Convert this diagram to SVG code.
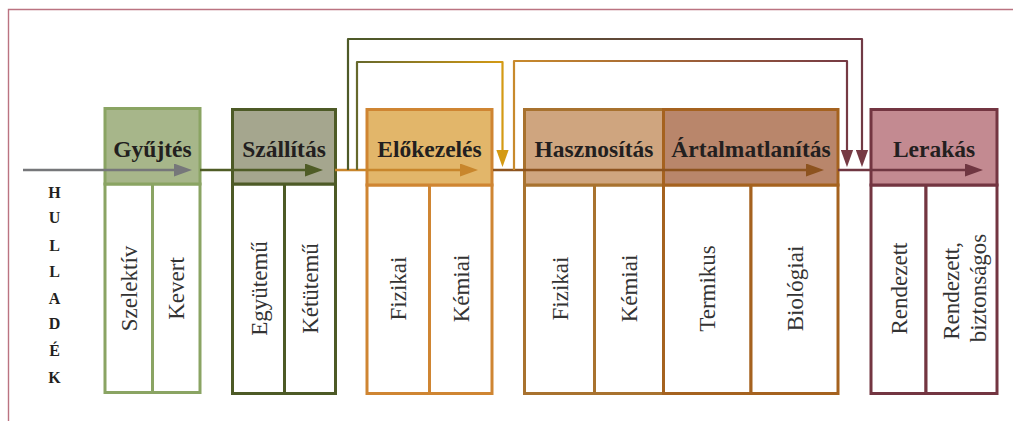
<svg xmlns="http://www.w3.org/2000/svg" width="1013" height="421" viewBox="0 0 1013 421">
  <style>
    .hdr { font-family: "Liberation Serif", "DejaVu Serif", serif; font-weight: bold; font-size: 23.5px; fill: #231f20; text-anchor: middle; }
    .sub { font-family: "Liberation Serif", "DejaVu Serif", serif; font-size: 23px; fill: #333; text-anchor: middle; }
    .side { font-family: "Liberation Serif", "DejaVu Serif", serif; font-weight: bold; font-size: 16px; fill: #231f20; text-anchor: middle; }
    .box { stroke-width: 3; }
    .cell { fill: #fff; stroke-width: 3; }
    .flow { fill: none; stroke-width: 2.6; }
    .loop { fill: none; stroke-width: 2.2; stroke-linejoin: round; }
  </style>
  <defs>
    <marker id="ah-gray" viewBox="0 0 18 13" refX="2" refY="6.5" markerWidth="18" markerHeight="13" markerUnits="userSpaceOnUse" orient="auto"><path d="M0,0 L18,6.5 L0,13 Z" fill="#76777a"/></marker>
    <marker id="ah-olive" viewBox="0 0 18 13" refX="2" refY="6.5" markerWidth="18" markerHeight="13" markerUnits="userSpaceOnUse" orient="auto"><path d="M0,0 L18,6.5 L0,13 Z" fill="#4f5c26"/></marker>
    <marker id="ah-orange" viewBox="0 0 18 13" refX="2" refY="6.5" markerWidth="18" markerHeight="13" markerUnits="userSpaceOnUse" orient="auto"><path d="M0,0 L18,6.5 L0,13 Z" fill="#c8862c"/></marker>
    <marker id="ah-brown" viewBox="0 0 18 13" refX="2" refY="6.5" markerWidth="18" markerHeight="13" markerUnits="userSpaceOnUse" orient="auto"><path d="M0,0 L18,6.5 L0,13 Z" fill="#8d531f"/></marker>
    <marker id="ah-maroon" viewBox="0 0 18 13" refX="2" refY="6.5" markerWidth="18" markerHeight="13" markerUnits="userSpaceOnUse" orient="auto"><path d="M0,0 L18,6.5 L0,13 Z" fill="#6f3641"/></marker>
    <marker id="ah-gold" viewBox="0 0 18 13" refX="2" refY="6.5" markerWidth="17" markerHeight="13" markerUnits="userSpaceOnUse" orient="auto"><path d="M0,0 L18,6.5 L0,13 Z" fill="#d49a14"/></marker>
    <marker id="ah-wine" viewBox="0 0 18 13" refX="2" refY="6.5" markerWidth="17" markerHeight="13" markerUnits="userSpaceOnUse" orient="auto"><path d="M0,0 L18,6.5 L0,13 Z" fill="#763a44"/></marker>
    <linearGradient id="g-outer" gradientUnits="userSpaceOnUse" x1="348" y1="0" x2="862" y2="0">
      <stop offset="0" stop-color="#4e5a28"/>
      <stop offset="1" stop-color="#713a45"/>
    </linearGradient>
    <linearGradient id="g-pre" gradientUnits="userSpaceOnUse" x1="357" y1="0" x2="502" y2="0">
      <stop offset="0" stop-color="#66682c"/>
      <stop offset="1" stop-color="#d49a14"/>
    </linearGradient>
    <linearGradient id="g-use" gradientUnits="userSpaceOnUse" x1="514" y1="0" x2="847" y2="0">
      <stop offset="0" stop-color="#c88a2c"/>
      <stop offset="1" stop-color="#763a44"/>
    </linearGradient>
  </defs>

  <rect width="1013" height="421" fill="#fff"/>

  <!-- page frame -->
  <path d="M8.5,421 V9.5 H1013" fill="none" stroke="#bb7381" stroke-width="1.4"/>

  <!-- vertical side label -->
  <g id="hulladek">
    <text class="side" x="54.5" y="198">H</text>
    <text class="side" x="54.5" y="223">U</text>
    <text class="side" x="54.5" y="250.5">L</text>
    <text class="side" x="54.5" y="277">L</text>
    <text class="side" x="54.5" y="304">A</text>
    <text class="side" x="54.5" y="329">D</text>
    <text class="side" x="54.5" y="356">É</text>
    <text class="side" x="54.5" y="383">K</text>
  </g>

  <g id="gyujtes">
    <rect class="cell" x="105" y="184" width="47.5" height="208.5" stroke="#8aa463"/>
    <rect class="cell" x="152.5" y="184" width="47.5" height="208.5" stroke="#8aa463"/>
    <rect class="box" x="105" y="108.5" width="95" height="75.5" fill="#a7b68a" stroke="#8aa463"/>
    <text class="hdr" x="152.5" y="157">Gyűjtés</text>
    <text class="sub" transform="translate(128.8,288.5) rotate(-90)" y="8">Szelektív</text>
    <text class="sub" transform="translate(176.2,288.5) rotate(-90)" y="8">Kevert</text>
  </g>

  <g id="szallitas">
    <rect class="cell" x="232.5" y="184" width="52" height="209.5" stroke="#4d5a26"/>
    <rect class="cell" x="284.5" y="184" width="51" height="209.5" stroke="#4d5a26"/>
    <rect class="box" x="232.5" y="109.5" width="103" height="74.5" fill="#a5a68e" stroke="#4d5a26"/>
    <text class="hdr" x="284" y="157">Szállítás</text>
    <text class="sub" transform="translate(258.5,288.5) rotate(-90)" y="8">Együtemű</text>
    <text class="sub" transform="translate(310,288.5) rotate(-90)" y="8">Kétütemű</text>
  </g>

  <g id="elokezeles">
    <rect class="cell" x="367" y="185" width="62.5" height="208.5" stroke="#cf8532"/>
    <rect class="cell" x="429.5" y="185" width="62.5" height="208.5" stroke="#cf8532"/>
    <rect class="box" x="367" y="109.5" width="125" height="75.5" fill="#e2b66a" stroke="#cf8532"/>
    <text class="hdr" x="429.5" y="157">Előkezelés</text>
    <text class="sub" transform="translate(398.2,288.5) rotate(-90)" y="8">Fizikai</text>
    <text class="sub" transform="translate(460.8,288.5) rotate(-90)" y="8">Kémiai</text>
  </g>

  <g id="hasznositas">
    <rect class="cell" x="524.5" y="185" width="70" height="208.5" stroke="#a8722f"/>
    <rect class="cell" x="594.5" y="185" width="69" height="208.5" stroke="#a8722f"/>
    <rect class="box" x="524.5" y="109.5" width="139" height="75.5" fill="#cfa57f" stroke="#a8722f"/>
    <text class="hdr" x="594" y="157">Hasznosítás</text>
    <text class="sub" transform="translate(559.5,288.5) rotate(-90)" y="8">Fizikai</text>
    <text class="sub" transform="translate(629,288.5) rotate(-90)" y="8">Kémiai</text>
  </g>

  <g id="artalmatlanitas">
    <rect class="cell" x="663.5" y="185" width="87.5" height="208.5" stroke="#a5621f"/>
    <rect class="cell" x="751" y="185" width="87" height="208.5" stroke="#a5621f"/>
    <rect class="box" x="663.5" y="109.5" width="174.5" height="75.5" fill="#b9866b" stroke="#a5621f"/>
    <text class="hdr" x="751" y="157">Ártalmatlanítás</text>
    <text class="sub" transform="translate(707.2,288.5) rotate(-90)" y="8">Termikus</text>
    <text class="sub" transform="translate(794.5,288.5) rotate(-90)" y="8">Biológiai</text>
  </g>

  <g id="lerakas">
    <rect class="cell" x="871" y="185" width="55" height="208.5" stroke="#733541"/>
    <rect class="cell" x="926" y="185" width="71" height="208.5" stroke="#733541"/>
    <rect class="box" x="871" y="109.5" width="126" height="75.5" fill="#c38a91" stroke="#733541"/>
    <text class="hdr" x="934" y="157">Lerakás</text>
    <text class="sub" transform="translate(898.5,288.5) rotate(-90)" y="8">Rendezett</text>
    <text class="sub" transform="translate(961.5,288) rotate(-90)">
      <tspan x="0" y="-2.5">Rendezett,</tspan>
      <tspan x="0" y="24.5">biztonságos</tspan>
    </text>
  </g>

  <g id="connectors">
    <!-- main flow -->
    <path class="flow" d="M23,170 H176" stroke="#76777a" marker-end="url(#ah-gray)"/>
    <path class="flow" d="M200,170 H307" stroke="#4f5c26" marker-end="url(#ah-olive)"/>
    <path class="flow" d="M335,170 H462" stroke="#c8862c" marker-end="url(#ah-orange)"/>
    <path class="flow" d="M493,170 H808" stroke="#8d531f" marker-end="url(#ah-brown)"/>
    <path class="flow" d="M838,170 H967" stroke="#6f3641" marker-end="url(#ah-maroon)"/>
    <!-- bypass loops -->
    <path class="loop" d="M348,170 V39 H862 V152" stroke="url(#g-outer)" marker-end="url(#ah-wine)"/>
    <path class="loop" d="M357,170 V62 H502.5 V152" stroke="url(#g-pre)" marker-end="url(#ah-gold)"/>
    <path class="loop" d="M514,170 V61 H847 V152" stroke="url(#g-use)" marker-end="url(#ah-wine)"/>
  </g>
</svg>
